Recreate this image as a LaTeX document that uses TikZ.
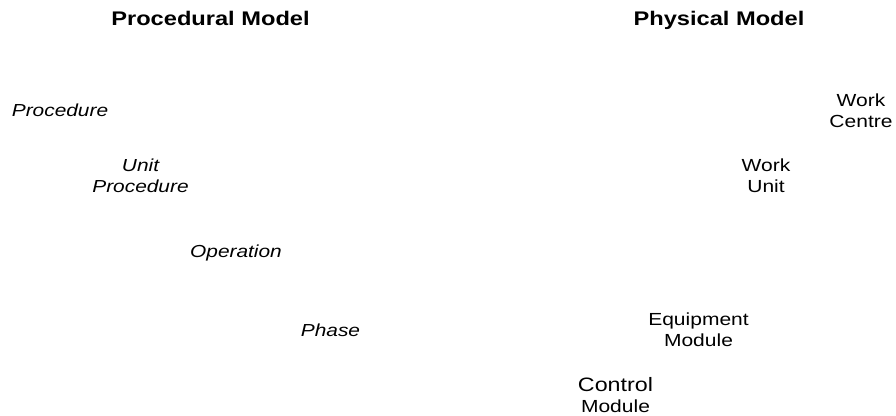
\documentclass[tikz,border=0pt]{standalone}
\usepackage{fontspec}
\setmainfont{Liberation Sans}
\usepackage{tikz}
\tikzstyle{model title}=[inner sep=0,anchor=base,xscale=1.2,
  font=\fontsize{19.7}{23}\selectfont\bfseries]
\tikzstyle{proc level}=[inner sep=0,anchor=base,align=center,xscale=1.2,
  font=\fontsize{17.4}{21}\selectfont\itshape]
\tikzstyle{phys level}=[inner sep=0,anchor=base,align=center,xscale=1.2,
  font=\fontsize{17.5}{21}\selectfont]

\begin{document}
\begin{tikzpicture}[x=1pt,y=1pt]
  \useasboundingbox (0,0) rectangle (896,415);

  % TITLES
  \node[model title] (proctitle) at (210.5,389) {Procedural Model};
  \node[model title] (phystitle) at (719,389) {Physical Model};

  % PROCEDURAL MODEL
  \node[proc level] (procedure) at (60,298)    {Procedure};
  \node[proc level] (unitproc)  at (140.5,222) {Unit\\Procedure};
  \node[proc level] (operation) at (236,157.5) {Operation};
  \node[proc level] (phase)     at (330.5,79)  {Phase};

  % PHYSICAL MODEL
  \node[phys level] (workcentre) at (861,287)  {Work\\Centre};
  \node[phys level] (workunit)   at (766,222)  {Work\\Unit};
  \node[phys level] (equipment)  at (698.5,69) {Equipment\\Module};
  \node[phys level,font=\fontsize{19.4}{21}\selectfont]
    (control) at (615.5,3) {Control\\{\fontsize{17.5}{21}\selectfont Module}};

\end{tikzpicture}
\end{document}
